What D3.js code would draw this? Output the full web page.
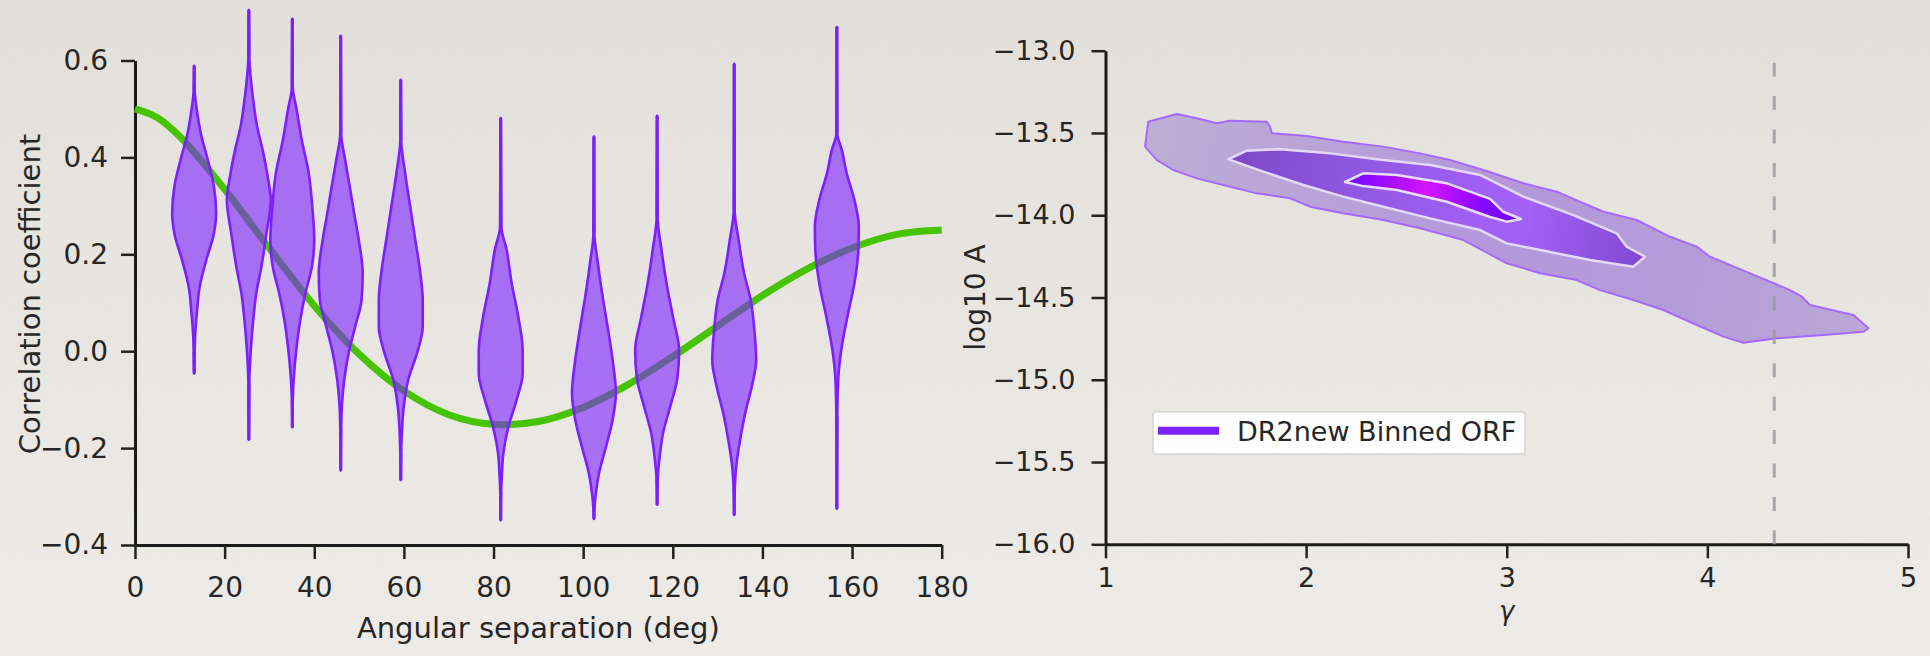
<!DOCTYPE html>
<html>
<head>
<meta charset="utf-8">
<script src="https://cdn.jsdelivr.net/npm/d3@7"></script>
<style>
html,body{margin:0;padding:0;overflow:hidden;background:#e8e5e0}
svg text{font-family:"DejaVu Sans",sans-serif;fill:#262626}
</style>
</head>
<body>
<svg id="chart" width="1930" height="656"></svg>
<script>
// ---------------- DATA ----------------
// Left panel: model curve (angle in deg, correlation)
const curveAngles = [0,5,10,20,30,40,50,60,70,80,90,100,110,120,130,140,150,160,170,180];
const curveValues = [0.500,0.482,0.443,0.334,0.212,0.094,-0.006,-0.082,-0.131,-0.151,-0.145,-0.116,-0.069,-0.011,0.052,0.115,0.170,0.213,0.241,0.250];

// Violin bins
const binAngles = [13.2,25.4,35.1,45.9,59.3,81.6,102.4,116.5,133.7,156.6];
const binMax = [0.589,0.704,0.686,0.651,0.560,0.481,0.443,0.486,0.593,0.669];
const binMin = [-0.046,-0.183,-0.157,-0.246,-0.266,-0.349,-0.346,-0.317,-0.338,-0.325];
// density profiles between min and max: [correlation value, relative density]
const binDensity = [
  [[0.54,0.02],[0.498,0.12],[0.45,0.3],[0.395,0.62],[0.34,0.9],[0.285,1.0],[0.243,0.9],[0.188,0.55],[0.133,0.25],[0.078,0.12],[0.037,0.05],[0.0,0.02]],
  [[0.608,0.02],[0.518,0.2],[0.463,0.38],[0.415,0.63],[0.36,0.86],[0.312,1.0],[0.243,0.8],[0.174,0.57],[0.12,0.34],[0.064,0.2],[0.016,0.11],[-0.066,0.02]],
  [[0.546,0.02],[0.498,0.2],[0.436,0.43],[0.367,0.75],[0.298,0.91],[0.23,1.0],[0.174,0.89],[0.12,0.6],[0.064,0.36],[0.002,0.18],[-0.053,0.07],[-0.1,0.02]],
  [[0.45,0.02],[0.395,0.2],[0.34,0.41],[0.285,0.61],[0.23,0.82],[0.161,1.0],[0.106,0.95],[0.051,0.66],[-0.004,0.36],[-0.059,0.16],[-0.115,0.05],[-0.16,0.02]],
  [[0.436,0.02],[0.367,0.2],[0.298,0.43],[0.23,0.66],[0.161,0.89],[0.106,1.0],[0.051,1.0],[-0.004,0.74],[-0.059,0.34],[-0.121,0.12],[-0.169,0.05],[-0.21,0.02]],
  [[0.257,0.03],[0.209,0.27],[0.14,0.5],[0.071,0.8],[0.002,1.0],[-0.046,1.0],[-0.101,0.72],[-0.156,0.35],[-0.211,0.12],[-0.259,0.05],[-0.29,0.02]],
  [[0.243,0.02],[0.188,0.16],[0.12,0.37],[0.051,0.62],[-0.018,0.85],[-0.087,1.0],[-0.142,0.85],[-0.197,0.55],[-0.252,0.23],[-0.293,0.09],[-0.32,0.03]],
  [[0.278,0.02],[0.209,0.2],[0.14,0.43],[0.071,0.72],[0.002,1.0],[-0.053,0.93],[-0.115,0.59],[-0.169,0.27],[-0.225,0.1],[-0.26,0.03]],
  [[0.291,0.02],[0.23,0.2],[0.161,0.45],[0.106,0.75],[0.037,0.93],[-0.018,1.0],[-0.073,0.8],[-0.128,0.5],[-0.183,0.27],[-0.238,0.09],[-0.28,0.03]],
  [[0.45,0.02],[0.415,0.23],[0.367,0.45],[0.312,0.8],[0.257,1.0],[0.209,0.98],[0.14,0.8],[0.071,0.48],[0.002,0.2],[-0.053,0.07],[-0.135,0.02]]
];
const angleTicks = [0,20,40,60,80,100,120,140,160,180];
const corrTicks = [-0.4,-0.2,0.0,0.2,0.4,0.6];
const leftXLabel = "Angular separation (deg)";
const leftYLabel = "Correlation coefficient";

// Right panel: credible-region contours (gamma, log10 A)
const regionOuter = [[1.197,-13.583],[1.213,-13.432],[1.355,-13.385],[1.455,-13.411],[1.554,-13.441],[1.621,-13.425],[1.804,-13.432],[1.820,-13.462],[1.829,-13.502],[2.003,-13.518],[2.185,-13.553],[2.385,-13.583],[2.568,-13.624],[2.717,-13.664],[2.883,-13.725],[3.083,-13.806],[3.249,-13.857],[3.382,-13.927],[3.482,-13.979],[3.648,-14.029],[3.814,-14.131],[3.947,-14.191],[4.013,-14.252],[4.213,-14.353],[4.412,-14.455],[4.471,-14.495],[4.512,-14.546],[4.728,-14.606],[4.803,-14.687],[4.778,-14.708],[4.578,-14.728],[4.346,-14.748],[4.179,-14.775],[4.080,-14.738],[3.947,-14.667],[3.781,-14.576],[3.631,-14.515],[3.465,-14.455],[3.349,-14.394],[3.166,-14.353],[3.000,-14.292],[2.784,-14.151],[2.568,-14.079],[2.385,-14.029],[2.185,-13.988],[2.019,-13.948],[1.920,-13.897],[1.754,-13.867],[1.587,-13.816],[1.455,-13.776],[1.338,-13.725],[1.255,-13.664]];
const regionMiddle = [[1.612,-13.660],[1.704,-13.608],[1.870,-13.599],[2.119,-13.624],[2.385,-13.664],[2.618,-13.695],[2.867,-13.755],[3.083,-13.887],[3.332,-13.999],[3.548,-14.110],[3.598,-14.191],[3.689,-14.252],[3.631,-14.313],[3.415,-14.272],[3.166,-14.211],[3.000,-14.171],[2.867,-14.090],[2.618,-14.019],[2.385,-13.948],[2.185,-13.887],[1.986,-13.816],[1.787,-13.735]];
const regionInner = [[2.194,-13.798],[2.285,-13.745],[2.452,-13.755],[2.701,-13.806],[2.917,-13.901],[2.983,-13.979],[3.071,-14.023],[3.000,-14.039],[2.917,-14.011],[2.701,-13.918],[2.452,-13.847],[2.285,-13.823]];
const gammaReference = 13/3;
const gammaTicks = [1,2,3,4,5];
const ampTicks = [-16.0,-15.5,-15.0,-14.5,-14.0,-13.5,-13.0];
const rightXLabel = "γ";
const rightYLabel = "log10 A";
const legendLabels = ["DR2new Binned ORF"];

// ---------------- DRAWING ----------------
const svg = d3.select("#chart");
const defs = svg.append("defs");

// background paper
const bg = defs.append("linearGradient").attr("id","bg").attr("x1",0).attr("y1",0).attr("x2",0).attr("y2",1);
bg.append("stop").attr("offset","0%").attr("stop-color","#e4e1dc");
bg.append("stop").attr("offset","100%").attr("stop-color","#efede9");
const nf = defs.append("filter").attr("id","noise").attr("x",0).attr("y",0).attr("width","100%").attr("height","100%");
nf.append("feTurbulence").attr("type","fractalNoise").attr("baseFrequency",0.9).attr("numOctaves",2).attr("seed",4);
nf.append("feColorMatrix").attr("type","saturate").attr("values",0);
svg.append("rect").attr("width",1930).attr("height",656).attr("fill","url(#bg)");
svg.append("rect").attr("width",1930).attr("height",656).attr("filter","url(#noise)").attr("opacity",0.05);

const violet = "#7b1fff";
const fmtTick = d3.format(".1f");

function styleAxis(g, fs){
  g.select(".domain").attr("stroke","#1a1a1a").attr("stroke-width",3);
  g.selectAll(".tick line").attr("stroke","#222").attr("stroke-width",2.5);
  g.selectAll(".tick text").attr("font-size",fs).attr("fill","#262626")
    .attr("font-family","DejaVu Sans, sans-serif");
}

// ===== Left panel =====
const xL = d3.scaleLinear().domain([0,180]).range([135,941.7]);
const yL = d3.scaleLinear().domain([-0.4,0.6]).range([545,60.5]);

const gxL = svg.append("g").attr("transform",`translate(0,${yL(-0.4)})`)
  .call(d3.axisBottom(xL).tickValues(angleTicks).tickFormat(d3.format("d")).tickSize(14).tickSizeOuter(0).tickPadding(18));
styleAxis(gxL, 28);
const gyL = svg.append("g").attr("transform",`translate(${xL(0)},0)`)
  .call(d3.axisLeft(yL).tickValues(corrTicks).tickFormat(fmtTick).tickSize(14).tickSizeOuter(0).tickPadding(13));
styleAxis(gyL, 28);

svg.append("text").attr("x",(xL(0)+xL(180))/2).attr("y",638).attr("text-anchor","middle")
  .attr("font-size",29).text(leftXLabel);
svg.append("text").attr("transform","translate(40,294) rotate(-90)").attr("text-anchor","middle")
  .attr("font-size",29).text(leftYLabel);

// model curve
const curveData = curveAngles.map((a,i)=>[a,curveValues[i]]);
svg.append("path").datum(curveData)
  .attr("d", d3.line().x(d=>xL(d[0])).y(d=>yL(d[1])).curve(d3.curveCatmullRom.alpha(0.5)))
  .attr("fill","none").attr("stroke","#46c400").attr("stroke-width",7);

// violins
const halfWidthDeg = 4.9;
const vg = svg.append("g");
binAngles.forEach((pos,i)=>{
  const prof = [[binMax[i],0]].concat(binDensity[i]).concat([[binMin[i],0]]);
  const area = d3.area()
    .y(d=>yL(d[0]))
    .x0(d=>xL(pos - d[1]*halfWidthDeg))
    .x1(d=>xL(pos + d[1]*halfWidthDeg))
    .curve(d3.curveMonotoneY);
  const sorted = prof.slice().sort((a,b)=>b[0]-a[0]);
  vg.append("path").attr("d",area(sorted))
    .attr("fill",violet).attr("fill-opacity",0.6)
    .attr("stroke",violet).attr("stroke-width",2.6).attr("stroke-linejoin","round");
  // thin extrema tails (outside the body only)
  const top = binDensity[i][0][0], bot = binDensity[i][binDensity[i].length-1][0];
  vg.append("line").attr("x1",xL(pos)).attr("x2",xL(pos))
    .attr("y1",yL(binMax[i])).attr("y2",yL(top))
    .attr("stroke",violet).attr("stroke-width",3.2);
  vg.append("line").attr("x1",xL(pos)).attr("x2",xL(pos))
    .attr("y1",yL(bot)).attr("y2",yL(binMin[i]))
    .attr("stroke",violet).attr("stroke-width",3.2);
});

// ===== Right panel =====
const xR = d3.scaleLinear().domain([1,5]).range([1105.5,1908]);
const yR = d3.scaleLinear().domain([-16,-13]).range([544.3,50.7]);

const gxR = svg.append("g").attr("transform",`translate(0,${yR(-16)})`)
  .call(d3.axisBottom(xR).tickValues(gammaTicks).tickFormat(d3.format("d")).tickSize(14).tickSizeOuter(0).tickPadding(10));
styleAxis(gxR, 27);
const gyR = svg.append("g").attr("transform",`translate(${xR(1)},0)`)
  .call(d3.axisLeft(yR).tickValues(ampTicks).tickFormat(fmtTick).tickSize(14).tickSizeOuter(0).tickPadding(16));
styleAxis(gyR, 27);

svg.append("text").attr("x",(xR(1)+xR(5))/2).attr("y",620).attr("text-anchor","middle")
  .attr("font-size",26).attr("font-style","italic").text(rightXLabel);
svg.append("text").attr("transform",`translate(985,${(yR(-13)+yR(-16))/2}) rotate(-90)`).attr("text-anchor","middle")
  .attr("font-size",28).text(rightYLabel);

function regionGradient(id, pts, stops){
  const left = pts.reduce((a,b)=>b[0]<a[0]?b:a);
  const right = pts.reduce((a,b)=>b[0]>a[0]?b:a);
  const g = defs.append("linearGradient").attr("id",id).attr("gradientUnits","userSpaceOnUse")
    .attr("x1",xR(left[0])).attr("y1",yR(left[1])).attr("x2",xR(right[0])).attr("y2",yR(right[1]));
  stops.forEach(s=>g.append("stop").attr("offset",s[0]).attr("stop-color",s[1]));
}
regionGradient("gOuter", regionOuter, [["0%","#bdaed4"],["45%","#b498da"],["75%","#b49cd9"],["100%","#bba8d6"]]);
regionGradient("gMiddle", regionMiddle, [["0%","#7c48c6"],["35%","#935ae6"],["70%","#a462f8"],["100%","#8048d0"]]);
regionGradient("gInner", regionInner, [["0%","#6e08ff"],["45%","#d414ff"],["80%","#8008ff"],["100%","#6e04ff"]]);

const regionLine = d3.line().x(d=>xR(d[0])).y(d=>yR(d[1])).curve(d3.curveLinearClosed);
svg.append("path").datum(regionOuter).attr("d",regionLine)
  .attr("fill","url(#gOuter)").attr("stroke","#a46aff").attr("stroke-width",2).attr("stroke-linejoin","round");
svg.append("path").datum(regionMiddle).attr("d",regionLine)
  .attr("fill","url(#gMiddle)").attr("stroke","#e4d8fb").attr("stroke-width",2.5).attr("stroke-linejoin","round");
svg.append("path").datum(regionInner).attr("d",regionLine)
  .attr("fill","url(#gInner)").attr("stroke","#e8dcff").attr("stroke-width",2.5).attr("stroke-linejoin","round");

// reference line
svg.append("line").attr("x1",xR(gammaReference)).attr("x2",xR(gammaReference))
  .attr("y1",yR(-16)).attr("y2",yR(-13))
  .attr("stroke","#9e99a2").attr("stroke-opacity",0.85).attr("stroke-width",3)
  .attr("stroke-dasharray","14,19.4");

// legend
const lg = svg.append("g");
lg.append("rect").attr("x",1153).attr("y",411.7).attr("width",372).attr("height",42.3).attr("rx",3)
  .attr("fill","#ffffff").attr("fill-opacity",0.95).attr("stroke","#d6d4d4").attr("stroke-width",1.5);
lg.append("line").attr("x1",1158).attr("x2",1219).attr("y1",430.7).attr("y2",430.7)
  .attr("stroke",violet).attr("stroke-width",8);
lg.append("text").attr("x",1237).attr("y",440.5).attr("font-size",27).text(legendLabels[0]);
</script>
</body>
</html>
